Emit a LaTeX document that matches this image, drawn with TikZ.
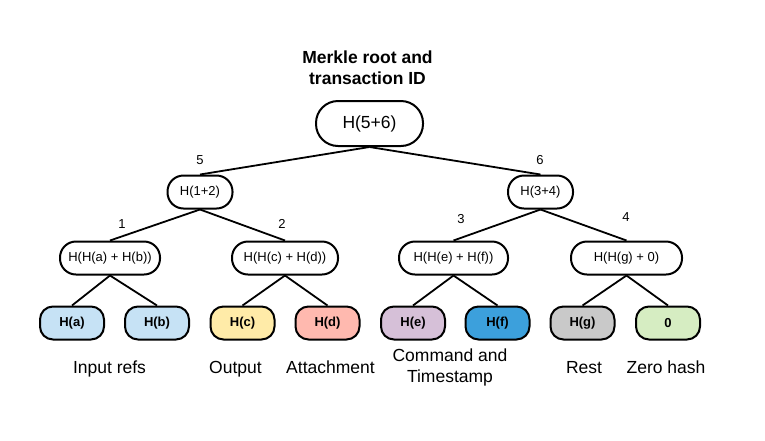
\documentclass[tikz,border=0pt]{standalone}
\usepackage{fontspec}
\setmainfont{Liberation Sans}
\usepackage{xcolor}
\usepackage{tikz}

\definecolor{cinput}{HTML}{C6E2F5}
\definecolor{coutput}{HTML}{FFEBA8}
\definecolor{cattach}{HTML}{FFB9AF}
\definecolor{ccmd}{HTML}{D6C0D8}
\definecolor{ctime}{HTML}{3CA0DC}
\definecolor{crest}{HTML}{C9C9C9}
\definecolor{czero}{HTML}{D6EDC2}

\begin{document}
\begin{tikzpicture}[x=1pt, y=-1pt,
		hash/.style={draw, line width=2pt, rounded corners=16pt, minimum height=33pt, inner sep=0pt, font=\fontsize{13}{15}\selectfont},
		leaf/.style={hash, rounded corners=13pt, minimum width=64pt, font=\bfseries\fontsize{13}{15}\selectfont},
		link/.style={line width=1.8pt},
		num/.style={font=\fontsize{13}{15}\selectfont},
		desc/.style={font=\fontsize{17.5}{21}\selectfont, align=center}]
		\useasboundingbox (0,0) rectangle (765,440);

		\def\ya{192}
		\def\yb{258}
		\def\yc{323}

		\node[align=center, font=\bfseries\fontsize{17.5}{21}\selectfont] (title) at (367.5,67.5) {Merkle root and\\transaction ID};
		\node[hash, minimum width=107pt, minimum height=45pt, rounded corners=22pt, font=\fontsize{17.5}{20}\selectfont] (root) at (369.5,123.5) {H(5+6)};

		\node[hash, minimum width=65pt] (5) at (200,\ya) {H(1+2)};
		\node[hash, minimum width=65pt] (6) at (540.5,\ya) {H(3+4)};

		\node[hash, minimum width=100pt] (1) at (110,\yb) {H(H(a) + H(b))};
		\node[hash, minimum width=106pt] (2) at (285,\yb) {H(H(c) + H(d))};
		\node[hash, minimum width=109pt] (3) at (453.5,\yb) {H(H(e) + H(f))};
		\node[hash, minimum width=111pt] (4) at (626.5,\yb) {H(H(g) + 0)};

		\foreach \n/\x/\col/\txt in {a/72/cinput/H(a), b/157/cinput/H(b), c/242.5/coutput/H(c), d/327.5/cattach/H(d), e/413/ccmd/H(e), f/497.5/ctime/H(f), g/582.5/crest/H(g), z/668/czero/0}
			\node[leaf, fill=\col] (\n) at (\x,\yc) {\txt};

		\foreach \p/\q in {root/5, root/6, 5/1, 5/2, 6/3, 6/4, 1/a, 1/b, 2/c, 2/d, 3/e, 3/f, 4/g, 4/z}
			\draw[link] (\p.south) -- (\q.north);

		\node[num] (n5) at (200,160) {5};
		\node[num] (n6) at (540,160) {6};
		\node[num] (n1) at (122,224) {1};
		\node[num] (n2) at (282,224) {2};
		\node[num] (n3) at (461,219) {3};
		\node[num] (n4) at (626,217) {4};

		\node[desc, anchor=base] (input) at (109.5,373) {Input refs};
		\node[desc, anchor=base] (output) at (235.5,373) {Output};
		\node[desc, anchor=base] (attach) at (330.5,373) {Attachment};
		\node[desc] (cmd) at (450,367.5) {Command and\\Timestamp};
		\node[desc, anchor=base] (rest) at (584,373) {Rest};
		\node[desc, anchor=base] (zero) at (666,373) {Zero hash};
	\end{tikzpicture}
\end{document}
